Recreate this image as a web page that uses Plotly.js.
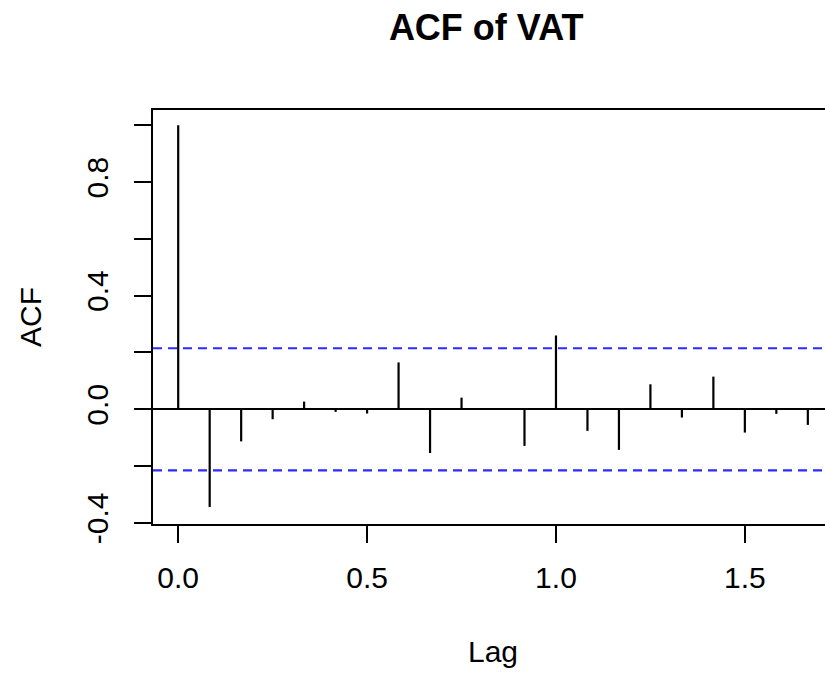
<!DOCTYPE html>
<html>
<head>
<meta charset="utf-8">
<script src="https://cdn.plot.ly/plotly-3.0.1.min.js"></script>
<style>
  html, body { margin: 0; padding: 0; background: #ffffff; overflow: hidden; }
  #chart { width: 853px; height: 673px; }
</style>
</head>
<body>
<div id="chart"></div>
<script>
// ---- data ----
const lags = [0, 1/12, 2/12, 3/12, 4/12, 5/12, 6/12, 7/12, 8/12, 9/12, 10/12,
              11/12, 12/12, 13/12, 14/12, 15/12, 16/12, 17/12, 18/12, 19/12, 20/12];
const acfValues = [1.000, -0.344, -0.113, -0.035, 0.027, -0.009, -0.015, 0.165, -0.154, 0.041, 0.003,
                   -0.129, 0.260, -0.076, -0.143, 0.088, -0.029, 0.115, -0.082, -0.016, -0.055];
const ciBound = 0.215;
const xTickVals = [0, 0.5, 1.0, 1.5];
const xTickText = ['0.0', '0.5', '1.0', '1.5'];
const yTickVals = [-0.4, -0.2, 0.0, 0.2, 0.4, 0.6, 0.8, 1.0];
const yTickText = ['-0.4', '', '0.0', '', '0.4', '', '0.8', ''];

// ---- build spike segments ----
const segX = [], segY = [];
lags.forEach((l, i) => {
  segX.push(l, l, null);
  segY.push(0, acfValues[i], null);
});

const font = 'Liberation Sans, Arial, Helvetica, sans-serif';

const traces = [{
  type: 'scatter',
  mode: 'lines',
  x: segX,
  y: segY,
  line: { color: '#000000', width: 2.2 },
  hoverinfo: 'skip',
  showlegend: false
}];

const layout = {
  width: 853,
  height: 673,
  margin: { l: 153, r: 20, t: 110, b: 149 },
  paper_bgcolor: '#ffffff',
  plot_bgcolor: '#ffffff',
  font: { family: font, size: 30, color: '#000000' },
  showlegend: false,
  title: {
    text: '<b>ACF of VAT</b>',
    font: { family: font, size: 36, color: '#000000' },
    x: 0.49, xref: 'paper', xanchor: 'center',
    y: 1 - 27 / 673, yref: 'container', yanchor: 'middle'
  },
  xaxis: {
    range: [-0.0667, 1.7333],
    tickvals: xTickVals,
    ticktext: xTickText,
    ticks: 'outside', ticklen: 17, tickwidth: 2, tickcolor: '#000000',
    ticklabelstandoff: 9,
    showline: true, mirror: true, linecolor: '#000000', linewidth: 2,
    showgrid: false, zeroline: false,
    tickfont: { family: font, size: 30, color: '#000000' },
    title: { text: 'Lag', font: { family: font, size: 30, color: '#000000' }, standoff: 48 }
  },
  yaxis: {
    range: [-0.404, 1.054],
    tickvals: yTickVals,
    ticktext: yTickText,
    tickangle: -90,
    ticks: 'outside', ticklen: 17, tickwidth: 2, tickcolor: '#000000',
    ticklabelstandoff: 14,
    showline: true, mirror: true, linecolor: '#000000', linewidth: 2,
    showgrid: false,
    zeroline: true, zerolinecolor: '#000000', zerolinewidth: 2,
    tickfont: { family: font, size: 30, color: '#000000' },
    title: { text: 'ACF', font: { family: font, size: 30, color: '#000000' }, standoff: 31 }
  },
  shapes: [ciBound, -ciBound].map(v => ({
    type: 'line', xref: 'paper', x0: 0, x1: 1, yref: 'y', y0: v, y1: v,
    line: { color: '#2b2bff', width: 2.2, dash: '9px,6px' }
  }))
};

Plotly.newPlot('chart', traces, layout, { displayModeBar: false, staticPlot: true });
</script>
</body>
</html>
